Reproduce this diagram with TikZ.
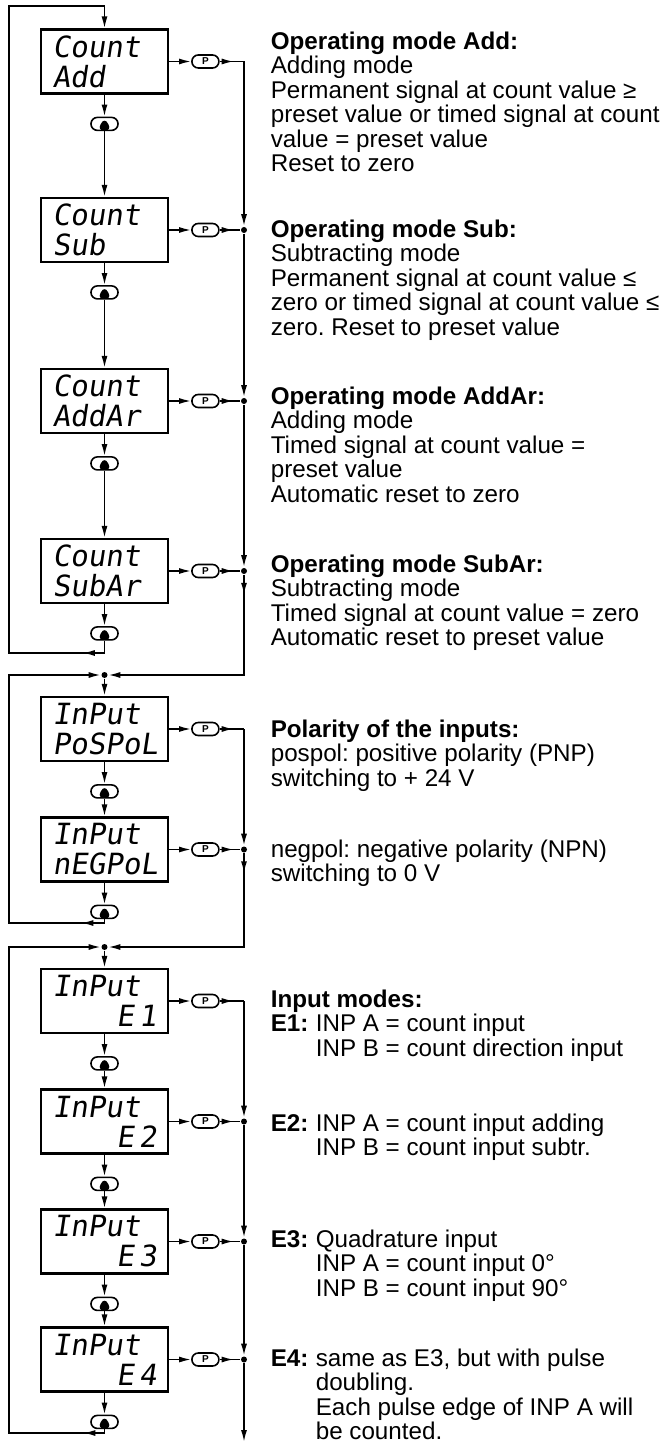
\documentclass[tikz,border=0pt]{standalone}
\usepackage{fontspec}
\setmainfont{Liberation Sans}
\newfontfamily\lcdfont{DejaVu Sans Mono}[FakeSlant=0.15]
\usetikzlibrary{arrows.meta, positioning, decorations.markings}
\frenchspacing

\newcommand{\emode}[1]{\makebox[22.5pt][l]{\textbf{#1}}}
\newcommand{\eind}{\hspace*{22.5pt}}

\begin{document}
\begin{tikzpicture}[
    x=0.5pt, y=-0.5pt,
    line width=0.8pt,
    node distance=11pt,
    disp/.style={draw, line width=1.1pt, minimum width=63.5pt, minimum height=32pt,
                 inner sep=0pt, text width=52pt, align=left,
                 font=\lcdfont\fontsize{14.6}{15}\selectfont},
    pkey/.style={draw, rounded corners=3.2pt, minimum width=13.5pt, minimum height=6.5pt,
                 inner sep=0pt, font=\fontsize{5}{5}\selectfont\bfseries},
    upkey/.style={draw, rounded corners=3.2pt, minimum width=13.5pt, minimum height=6.5pt,
                 inner sep=0pt,
                 path picture={\fill ([xshift=-3.6pt]path picture bounding box.south)
                   -- ([xshift=3.6pt]path picture bounding box.south)
                   -- (path picture bounding box.north) -- cycle;}},
    dot/.style={circle, fill, inner sep=0pt, minimum size=3pt},
    txt/.style={anchor=north west, inner sep=0pt, align=left,
                font=\fontsize{12.1}{12.25}\selectfont},
    arr/.style={postaction={decorate}, decoration={markings,
                mark=at position #1 with {\arrow{>}}}},
    >={Latex[length=6pt, width=3pt]}]
  \useasboundingbox (0,0) rectangle (669,1443);
  \coordinate (railR) at (244,0);
  \coordinate (top) at (104.5,6);
  \coordinate (lcount) at (9,653);
  \coordinate (lpol) at (9,923);
  \coordinate (linp) at (9,1433);
  \coordinate (endinp) at (244,1442);

  % displays
  \node[disp] (add) at (104.5,61.5) {Count\\Add};
  \node[disp] (sub) at (104.5,230) {Count\\Sub};
  \node[disp] (addar) at (104.5,401) {Count\\AddAr};
  \node[disp] (subar) at (104.5,571) {Count\\SubAr};
  \node[disp] (pos) at (104.5,729) {InPut\\PoSPoL};
  \node[disp] (neg) at (104.5,849.5) {InPut\\nEGPoL};
  \node[disp] (e1) at (104.5,1001) {InPut\\\hspace*{0pt plus 1filll}E\,1};
  \node[disp] (e2) at (104.5,1121.5) {InPut\\\hspace*{0pt plus 1filll}E\,2};
  \node[disp] (e3) at (104.5,1241.5) {InPut\\\hspace*{0pt plus 1filll}E\,3};
  \node[disp] (e4) at (104.5,1359.5) {InPut\\\hspace*{0pt plus 1filll}E\,4};

  % up keys
  \node[upkey, below=of add] (uadd) {};
  \node[upkey, below=of sub] (usub) {};
  \node[upkey, below=of addar] (uaddar) {};
  \node[upkey, below=of subar] (usubar) {};
  \node[upkey, below=of pos] (upos) {};
  \node[upkey, below=of neg] (uneg) {};
  \node[upkey, below=of e1] (ue1) {};
  \node[upkey, below=of e2] (ue2) {};
  \node[upkey, below=of e3] (ue3) {};
  \node[upkey, below=of e4] (ue4) {};

  % P keys
  \node[pkey, right=of add] (padd) {P};
  \node[pkey, right=of sub] (psub) {P};
  \node[pkey, right=of addar] (paddar) {P};
  \node[pkey, right=of subar] (psubar) {P};
  \node[pkey, right=of pos] (ppos) {P};
  \node[pkey, right=of neg] (pneg) {P};
  \node[pkey, right=of e1] (pe1) {P};
  \node[pkey, right=of e2] (pe2) {P};
  \node[pkey, right=of e3] (pe3) {P};
  \node[pkey, right=of e4] (pe4) {P};

  % junctions
  \coordinate (cadd) at (padd -| railR);
  \node[dot] (jsub) at (psub -| railR) {};
  \node[dot] (jaddar) at (paddar -| railR) {};
  \node[dot] (jsubar) at (psubar -| railR) {};
  \coordinate (cpos) at (ppos -| railR);
  \node[dot] (jneg) at (pneg -| railR) {};
  \coordinate (ce1) at (pe1 -| railR);
  \node[dot] (je2) at (pe2 -| railR) {};
  \node[dot] (je3) at (pe3 -| railR) {};
  \node[dot] (je4) at (pe4 -| railR) {};
  \node[dot] (jpol) at (104.5,675) {};
  \node[dot] (jinp) at (104.5,947) {};

  % count group
  \draw[->] (add) -- (uadd);
  \draw[->] (uadd) -- (sub);
  \draw[->] (sub) -- (usub);
  \draw[->] (usub) -- (addar);
  \draw[->] (addar) -- (uaddar);
  \draw[->] (uaddar) -- (subar);
  \draw[->] (subar) -- (usubar);
  \draw[->, arr=17pt] (usubar) |- (lcount) |- (top) -- (add);
  \draw[->] (add) -- (padd);
  \draw[->] (sub) -- (psub);
  \draw[->] (addar) -- (paddar);
  \draw[->] (subar) -- (psubar);
  \draw[arr=7pt] (padd) -- (cadd);
  \draw[arr=7pt] (psub) -- (jsub);
  \draw[arr=7pt] (paddar) -- (jaddar);
  \draw[arr=7pt] (psubar) -- (jsubar);
  \draw[->] (cadd) -- (jsub);
  \draw[->] (jsub) -- (jaddar);
  \draw[->] (jaddar) -- (jsubar);
  \draw[->, arr=10pt] (jsubar) |- (jpol);

  % polarity group
  \draw[->] (jpol) -- (pos);
  \draw[->] (pos) -- (upos);
  \draw[->] (upos) -- (neg);
  \draw[->] (neg) -- (uneg);
  \draw[->, arr=13.5pt] (uneg) |- (lpol) |- (jpol);
  \draw[->] (pos) -- (ppos);
  \draw[->] (neg) -- (pneg);
  \draw[arr=7pt] (ppos) -- (cpos);
  \draw[arr=7pt] (pneg) -- (jneg);
  \draw[->] (cpos) -- (jneg);
  \draw[->, arr=10pt] (jneg) |- (jinp);

  % input group
  \draw[->] (jinp) -- (e1);
  \draw[->] (e1) -- (ue1);
  \draw[->] (ue1) -- (e2);
  \draw[->] (e2) -- (ue2);
  \draw[->] (ue2) -- (e3);
  \draw[->] (e3) -- (ue3);
  \draw[->] (ue3) -- (e4);
  \draw[->] (e4) -- (ue4);
  \draw[->, arr=12.5pt] (ue4) |- (linp) |- (jinp);
  \draw[->] (e1) -- (pe1);
  \draw[->] (e2) -- (pe2);
  \draw[->] (e3) -- (pe3);
  \draw[->] (e4) -- (pe4);
  \draw[arr=7pt] (pe1) -- (ce1);
  \draw[arr=7pt] (pe2) -- (je2);
  \draw[arr=7pt] (pe3) -- (je3);
  \draw[arr=7pt] (pe4) -- (je4);
  \draw[->] (ce1) -- (je2);
  \draw[->] (je2) -- (je3);
  \draw[->] (je3) -- (je4);
  \draw[->] (je4) -- (endinp);

  % descriptions
  \node[txt] (tadd) at (270,31) {\textbf{Operating mode Add:}\\Adding mode\\
    Permanent signal at count value ≥\\preset value or timed signal at count\\
    value = preset value\\Reset to zero};
  \node[txt] (tsub) at (270,219) {\textbf{Operating mode Sub:}\\Subtracting mode\\
    Permanent signal at count value ≤\\zero or timed signal at count value ≤\\
    zero. Reset to preset value};
  \node[txt] (taddar) at (270,386) {\textbf{Operating mode AddAr:}\\Adding mode\\
    Timed signal at count value =\\preset value\\Automatic reset to zero};
  \node[txt] (tsubar) at (270,554) {\textbf{Operating mode SubAr:}\\Subtracting mode\\
    Timed signal at count value = zero\\Automatic reset to preset value};
  \node[txt] (tpol) at (270,719) {\textbf{Polarity of the inputs:}\\
    pospol: positive polarity (PNP)\\switching to + 24 V};
  \node[txt] (tneg) at (270,839) {negpol: negative polarity (NPN)\\switching to 0 V};
  \node[txt] (tinp) at (270,989) {\textbf{Input modes:}\\
    \emode{E1:}INP A = count input\\\eind INP B = count direction input};
  \node[txt] (te2) at (270,1113) {\emode{E2:}INP A = count input adding\\
    \eind INP B = count input subtr.};
  \node[txt] (te3) at (270,1229) {\emode{E3:}Quadrature input\\
    \eind INP A = count input 0°\\\eind INP B = count input 90°};
  \node[txt] (te4) at (270,1348) {\emode{E4:}same as E3, but with pulse\\
    \eind doubling.\\\eind Each pulse edge of INP A will\\\eind be counted.};
\end{tikzpicture}
\end{document}
